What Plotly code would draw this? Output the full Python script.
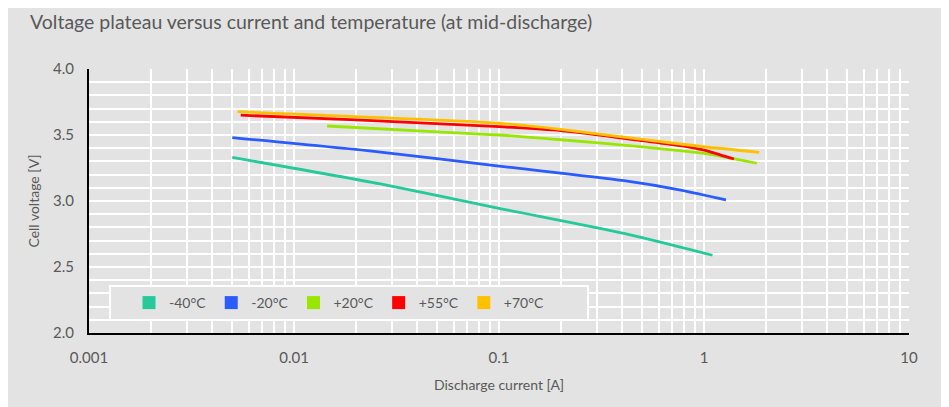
import plotly.graph_objects as go

# ---- data ----
series_names = ["-40°C", "-20°C", "+20°C", "+55°C", "+70°C"]
series_colors = ["#26C998", "#2A5BFF", "#99E600", "#FF0000", "#FFC000"]

current_m40 = [0.005, 0.0264, 0.1, 0.407, 1.1]
voltage_m40 = [3.33, 3.129, 2.945, 2.755, 2.589]

current_m20 = [0.005, 0.0264, 0.1, 0.407, 0.77, 1.28]
voltage_m20 = [3.48, 3.371, 3.265, 3.154, 3.083, 3.008]

current_p20 = [0.0145, 0.05, 0.1, 0.2, 0.5, 1.0, 1.81]
voltage_p20 = [3.568, 3.523, 3.50, 3.464, 3.41, 3.361, 3.286]

current_p55 = [0.0055, 0.02, 0.1, 0.2, 0.5, 0.8, 1.0, 1.2, 1.4]
voltage_p55 = [3.65, 3.614, 3.563, 3.533, 3.457, 3.415, 3.385, 3.35, 3.318]

current_p70 = [0.0053, 0.02, 0.1, 0.2, 0.5, 1.0, 1.86]
voltage_p70 = [3.677, 3.639, 3.589, 3.543, 3.467, 3.411, 3.369]

x_tick_vals = [0.001, 0.01, 0.1, 1, 10]
x_tick_text = ["0.001", "0.01", "0.1", "1", "10"]
x_minor_vals = [m * d for d in [0.001, 0.01, 0.1, 1] for m in range(2, 10)]
y_tick_vals = [2.0, 2.5, 3.0, 3.5, 4.0]

currents = [current_m40, current_m20, current_p20, current_p55, current_p70]
voltages = [voltage_m40, voltage_m20, voltage_p20, voltage_p55, voltage_p70]

BG = "#e3e3e3"
TXT = "#595959"
FONT = "Lato"

fig = go.Figure()
for name, color, xs, ys in zip(series_names, series_colors, currents, voltages):
    fig.add_trace(go.Scatter(x=xs, y=ys, mode="lines", name=name,
                             line=dict(color=color, width=2.8, shape="spline", smoothing=0.7),
                             showlegend=False, hoverinfo="x+y+name"))
for name, color in zip(series_names, series_colors):
    fig.add_trace(go.Scatter(x=[None], y=[None], mode="markers", name=name,
                             marker=dict(symbol="square", size=13, color=color),
                             showlegend=True))

W, H = 935, 400
L, R, T, B = 81, 901, 61, 325
pw, ph = R - L, B - T

def px(x):
    return (x - L) / pw

def py(y):
    return (B - y) / ph

fig.update_layout(
    width=W, height=H,
    margin=dict(l=L, r=W - R, t=T, b=H - B),
    paper_bgcolor=BG,
    plot_bgcolor=BG,
    font=dict(family=FONT, color=TXT, size=13),
    title=dict(text="Voltage plateau versus current and temperature (at mid-discharge)",
               x=22 / W, xref="container", xanchor="left",
               y=1 - 14 / H, yref="container", yanchor="middle",
               font=dict(family=FONT, size=19.5, color=TXT)),
    shapes=[
        dict(type="rect", xref="paper", yref="paper", layer="above",
             x0=px(102), x1=px(580), y0=py(312), y1=py(278),
             fillcolor=BG, line=dict(color="white", width=2)),
    ],
    legend=dict(orientation="h", x=px(121), xanchor="left", y=py(295), yanchor="middle",
                bgcolor="rgba(0,0,0,0)", borderwidth=0,
                font=dict(family=FONT, size=14, color=TXT)),
    xaxis=dict(type="log", range=[-3, 1], tickmode="array", tickvals=x_tick_vals,
               ticktext=x_tick_text, showgrid=True, gridcolor="white", gridwidth=2,
               minor=dict(tickmode="array", tickvals=x_minor_vals, showgrid=True,
                          gridcolor="white", gridwidth=1.5),
               showline=True, linecolor="black", linewidth=2, ticks="",
               zeroline=False, ticklabelstandoff=10,
               tickfont=dict(family=FONT, size=15, color=TXT),
               title=dict(text="Discharge current [A]", standoff=15,
                          font=dict(family=FONT, size=14, color=TXT))),
    yaxis=dict(range=[2, 4], tickmode="array", tickvals=y_tick_vals, tickformat=".1f",
               showgrid=True, gridcolor="white", gridwidth=2,
               minor=dict(dtick=0.1, showgrid=True, gridcolor="white", gridwidth=1.5),
               showline=True, linecolor="black", linewidth=2, ticks="",
               zeroline=False, ticklabelstandoff=10,
               tickfont=dict(family=FONT, size=15, color=TXT),
               title=dict(text="Cell voltage [V]", standoff=10,
                          font=dict(family=FONT, size=14, color=TXT))),
)

fig.write_html("out.html")
